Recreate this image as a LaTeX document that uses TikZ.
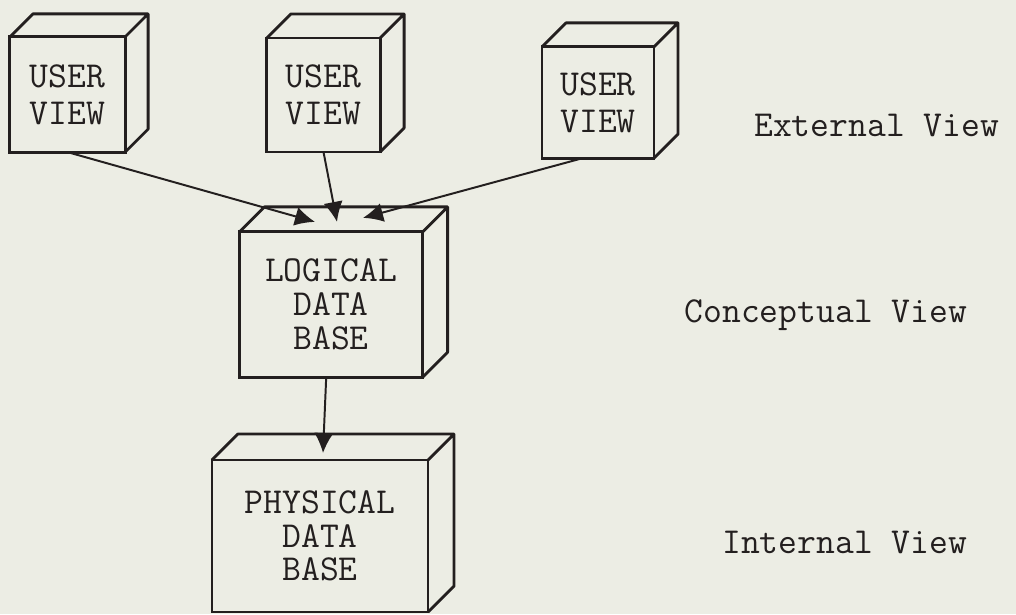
\documentclass[tikz,border=0pt]{standalone}
\usepackage{fontspec}
\usetikzlibrary{arrows.meta,positioning}
\definecolor{paper}{RGB}{236,237,228}
\definecolor{ink}{RGB}{35,31,31}
\begin{document}
\begin{tikzpicture}[
        x=0.025cm, y=-0.025cm,  % one unit is one pixel of the page, y goes down
        >={Latex[length=5mm,width=4.8mm]},  % Arrow style
        box/.style={draw=ink, line width=2pt, inner sep=0pt, outer sep=0pt, align=center, text=ink,
            font=\ttfamily\fontsize{26}{24}\selectfont},
        boxline/.style={draw=ink, line width=2pt, line join=round},
        view/.style={text=ink, font=\ttfamily\fontsize{26}{24}\selectfont, anchor=east}
    ]
    \fill[paper] (0,0) rectangle (1016,614);
    \useasboundingbox (0,0) rectangle (1016,614);

    % Define the nodes with text inside boxes
    \node[box, minimum width=2.88cm, minimum height=2.88cm] (u1) at (67.5,94.5) {USER\\[2pt]VIEW};
    \node[box, minimum width=2.83cm, minimum height=2.85cm] (u2) at (323.5,95) {USER\\[2pt]VIEW};
    \node[box, minimum width=2.8cm, minimum height=2.78cm] (u3) at (598,102.5) {USER\\[2pt]VIEW};
    \node[box, minimum width=4.58cm, minimum height=3.63cm] (ldb) at (331,304.5) {LOGICAL\\DATA\\BASE};
    \node[box, minimum width=5.4cm, minimum height=3.8cm] (pdb) at (320,536) {PHYSICAL\\DATA\\BASE};

    % Depth of the boxes
    \foreach \n/\d in {u1/23, u2/24, u3/24, ldb/25, pdb/26}
        \draw[boxline] (\n.north west) -- ++(\d,-\d) -- ([shift={(\d,-\d)}]\n.north east)
            -- ([shift={(\d,-\d)}]\n.south east) -- (\n.south east)
            (\n.north east) -- ++(\d,-\d);

    % Levels
    \node[view] (ext) at (1004,125) {External View};
    \node[view] (con) at (972,315) {Conceptual View};
    \node[view] (int) at (972,542) {Internal View};

    % Draw arrows between the boxes
    \draw[->, ink, line width=1.4pt] (u1.south) -- ([shift={(-16,-10)}]ldb.north);
    \draw[->, ink, line width=1.4pt] (u2.south) -- ([shift={(6,-10)}]ldb.north);
    \draw[->, ink, line width=1.4pt] ([xshift=-0.38cm]u3.south) -- ([shift={(32,-14)}]ldb.north);
    \draw[->, ink, line width=1.4pt] ([xshift=-0.12cm]ldb.south) -- ([shift={(3,-7)}]pdb.north);

\end{tikzpicture}
\end{document}
